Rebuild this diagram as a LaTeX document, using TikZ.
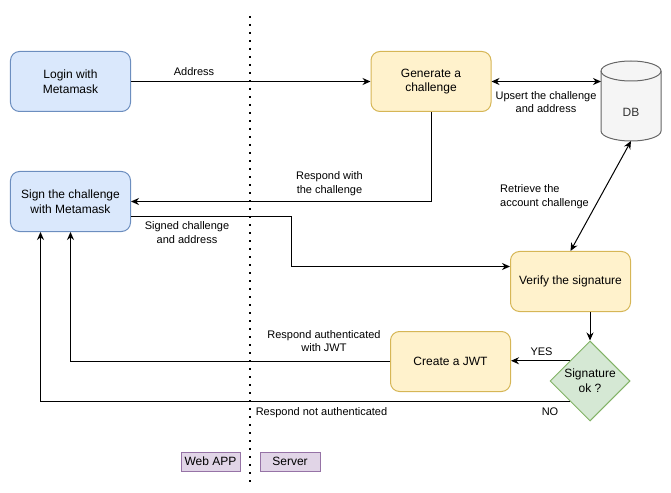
\documentclass[tikz,border=0pt]{standalone}
\usepackage{fontspec}
\setmainfont{Liberation Sans}
\usetikzlibrary{positioning,shapes.geometric,arrows.meta,backgrounds}

\definecolor{webfill}{HTML}{DAE8FC}
\definecolor{webline}{HTML}{6C8EBF}
\definecolor{srvfill}{HTML}{FFF2CC}
\definecolor{srvline}{HTML}{D6B656}
\definecolor{okfill}{HTML}{D5E8D4}
\definecolor{okline}{HTML}{82B366}
\definecolor{tagfill}{HTML}{E1D5E7}
\definecolor{tagline}{HTML}{9673A6}
\definecolor{dbfill}{HTML}{F5F5F5}
\definecolor{dbline}{HTML}{666666}
\definecolor{dbtext}{HTML}{333333}

\tikzset{
  box/.style = {rectangle, rounded corners=9bp, minimum width=120bp, minimum height=60bp,
    align=center, line width=1bp, font=\fontsize{12bp}{14.5bp}\selectfont},
  web/.style = {box, fill=webfill, draw=webline},
  srv/.style = {box, fill=srvfill, draw=srvline},
  decide/.style = {diamond, shape aspect=1, minimum width=80bp, minimum height=80bp,
    inner sep=0pt, line width=1bp, fill=okfill, draw=okline},
  tag/.style = {rectangle, minimum width=60bp, minimum height=19bp, inner sep=2bp,
    line width=1bp, fill=tagfill, draw=tagline, font=\fontsize{12bp}{14.5bp}\selectfont},
  dbbox/.style = {rectangle, minimum width=60bp, minimum height=80bp, outer sep=0pt},
  lbl/.style = {align=center, inner sep=0pt, font=\fontsize{11bp}{13.5bp}\selectfont},
  flow/.style = {->, line width=1bp},
  both/.style = {<->, line width=1bp},
  sepline/.style = {line width=1.8bp, dash pattern=on 1.8bp off 6.2bp},
}

\begin{document}
\begin{tikzpicture}[x=1bp, y=-1bp, node distance=59bp, >={Stealth[length=8bp,width=7bp]}]
        \useasboundingbox (0,0) rectangle (671,493);
        % web app side
        \node[web] (login) at (70.5,81.5) {Login with\\Metamask} ; %
        \node[web, below = of login] (sign) {Sign the challenge\\with Metamask} ; %
        % server side
        \node[srv] (gen) at (431,81.5) {Generate a\\challenge} ; %
        \node[dbbox, label={[text=dbtext, yshift=-11bp, font=\fontsize{12bp}{14.5bp}\selectfont]center:DB}] (db) at (631,101) {} ; %
        \node[srv] (verify) at (570.5,281.5) {Verify the signature} ; %
        \node[srv] (jwt) at (450.5,361.5) {Create a JWT} ; %
        \node[decide, label={[lbl, font=\fontsize{12bp}{15bp}\selectfont]center:Signature\\ok ?}] (sig) at (590,381) {} ; %
        % legend
        \node[tag, minimum width=59bp] (webapp) at (210.5,461.5) {Web APP} ; %
        \node[tag, right = 19bp of webapp] (server) {Server} ; %
        %
        \coordinate (septop) at (250,16) ; %
        \coordinate (sepbot) at (250,486) ; %
        \draw[sepline] (septop) -- (sepbot) ; %
        %
        \begin{scope}[on background layer]
          \draw[line width=1bp, draw=dbline, fill=dbfill] ([yshift=-10bp]db.north west)
            -- ([yshift=10bp]db.south west) arc[start angle=180, end angle=360, x radius=30bp, y radius=10bp]
            -- ([yshift=-10bp]db.north east) arc[start angle=0, end angle=180, x radius=30bp, y radius=10bp]
            -- cycle ; %
          \draw[line width=1bp, draw=dbline] ([yshift=-10bp]db.north west)
            arc[start angle=180, end angle=360, x radius=30bp, y radius=10bp] ; %
        \end{scope}
        %
        \node[lbl] (address) at (194,72) {Address} ; %
        \node[lbl] (respchal) at (329.5,183.5) {Respond with\\the challenge} ; %
        \node[lbl] (signed) at (187,232.5) {Signed challenge\\and address} ; %
        \node[lbl] (upsert) at (546,102) {Upsert the challenge\\and address} ; %
        \node[lbl, anchor=west, align=left] (retrieve) at (500,196.5) {Retrieve the\\account challenge} ; %
        \node[lbl] (respjwt) at (324,341) {Respond authenticated\\with JWT} ; %
        \node[lbl] (respnot) at (321.5,413) {Respond not authenticated} ; %
        \node[lbl] (yes) at (541.5,352) {YES} ; %
        \node[lbl] (no) at (550,412) {NO} ; %
        %
        \draw[flow] (login) -- (gen) ; %
        \draw[flow] (gen) |- (sign) ; %
        \draw[flow] ([yshift=-15bp]sign.east) -- ++(160,0) |- ([yshift=15bp]verify.west) ; %
        \draw[both] (gen) -- (gen -| db.west) ; %
        \draw[both] (db.south) -- (verify.north) ; %
        \draw[flow] (verify.south -| sig.north) -- (sig.north) ; %
        \draw[flow] (sig.north west) -- (sig.north west -| jwt.east) ; %
        \draw[flow] (jwt) -| (sign) ; %
        \draw[flow] (sig.south west) -| ([xshift=-30bp]sign.south) ; %
\end{tikzpicture}
\end{document}
